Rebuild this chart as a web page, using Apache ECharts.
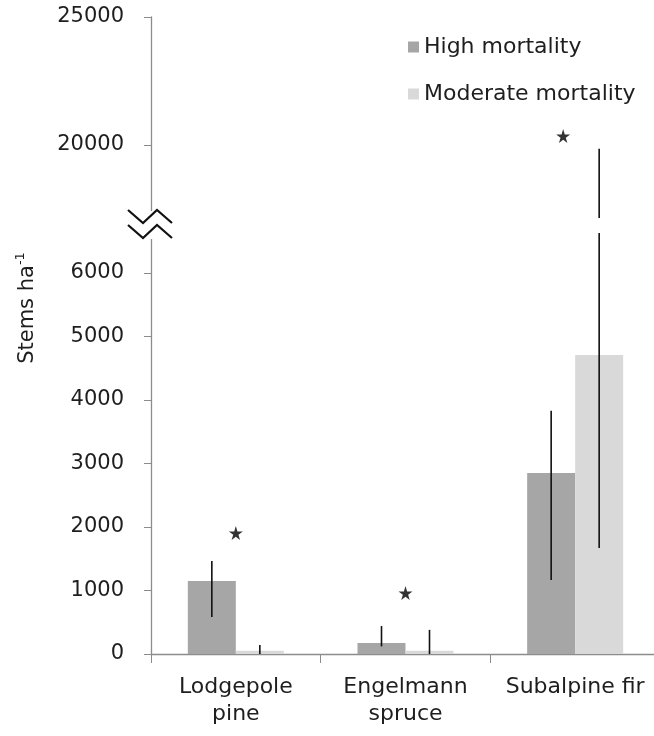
<!DOCTYPE html>
<html>
<head>
<meta charset="utf-8">
<script src="https://cdn.jsdelivr.net/npm/echarts@6/dist/echarts.min.js"></script>
<style>html,body{margin:0;padding:0;background:#fff}#c{width:654px;height:736px}</style>
</head>
<body>
<div id="c"></div>
<script>
var categories = ['Lodgepole\npine', 'Engelmann\nspruce', 'Subalpine fir'];
var seriesNames = ['High mortality', 'Moderate mortality'];
var highMean = [1150, 175, 2850];
var highLow = [583, 120, 1165];
var highUp = [1465, 440, 3830];
var modMean = [50, 50, 4710];
var modLow = [0, 0, 1670];
var modUp = [140, 380, 19850];
var starValues = [1905, 960, 20350];
var lowerTicks = [0, 1000, 2000, 3000, 4000, 5000, 6000];
var upperTicks = [20000, 25000];
var lowerMax = 6630, upperMin = 17150, upperMax = 25000;

var FONT = 'DejaVu Sans';
var TXT = '#1e1e1e';
var AX = '#8c8c8c';
var BAR_W = 48;
var STAR = 'path://M50,0 L61,35 L98,35 L68,57 L79,91 L50,70 L21,91 L32,57 L2,35 L39,35 Z';

function plain(v) { return String(v); }
function errRender(side) {
  return function (params, api) {
    var i = api.value(0);
    var a = api.coord([i, api.value(1)]);
    var b = api.coord([i, api.value(2)]);
    var cs = params.coordSys;
    function cl(y) { return Math.min(Math.max(y, cs.y), cs.y + cs.height); }
    var x = a[0] + side * BAR_W / 2;
    return { type: 'line', shape: { x1: x, y1: cl(a[1]), x2: x, y2: cl(b[1]) },
             style: { stroke: '#111', lineWidth: 1.6 } };
  };
}
function errData(lo, up, idx) {
  return idx.map(function (i) { return [i, lo[i], up[i]]; });
}

var chart = echarts.init(document.getElementById('c'), null, { renderer: 'canvas' });
chart.setOption({
  animation: false,
  textStyle: { fontFamily: FONT, color: TXT },
  grid: [
    { left: 151, width: 509, top: 233, bottom: 82, outerBoundsMode: 'none', containLabel: false },
    { left: 151, width: 509, top: 17, bottom: 518, outerBoundsMode: 'none', containLabel: false }
  ],
  legend: {
    orient: 'vertical', left: 403, top: 30, itemWidth: 11, itemHeight: 11, itemGap: 23,
    icon: 'rect', data: seriesNames,
    textStyle: { fontFamily: FONT, fontSize: 22, color: TXT, lineHeight: 24 }
  },
  xAxis: [
    { type: 'category', gridIndex: 0, data: categories,
      axisLine: { lineStyle: { color: AX, width: 1.3 } },
      axisTick: { show: true, length: 9, lineStyle: { color: AX } },
      axisLabel: { fontFamily: FONT, fontSize: 22, color: TXT, margin: 20, lineHeight: 27, interval: 0 } },
    { type: 'category', gridIndex: 1, data: categories, show: false }
  ],
  yAxis: [
    { type: 'value', gridIndex: 0, min: 0, max: lowerMax,
      splitLine: { show: false },
      axisLine: { show: true, lineStyle: { color: AX, width: 1.3 } },
      axisTick: { show: true, length: 7, customValues: lowerTicks, lineStyle: { color: AX } },
      axisLabel: { customValues: lowerTicks, formatter: plain, fontFamily: FONT, fontSize: 21, color: TXT, margin: 27 } },
    { type: 'value', gridIndex: 1, min: upperMin, max: upperMax,
      splitLine: { show: false },
      axisLine: { show: true, lineStyle: { color: AX, width: 1.3 } },
      axisTick: { show: true, length: 7, customValues: upperTicks, lineStyle: { color: AX } },
      axisLabel: { customValues: upperTicks, formatter: plain, fontFamily: FONT, fontSize: 21, color: TXT, margin: 27 } }
  ],
  series: [
    { name: seriesNames[0], type: 'bar', xAxisIndex: 0, yAxisIndex: 0, data: highMean,
      barWidth: BAR_W, barGap: '0%', itemStyle: { color: '#a6a6a6' } },
    { name: seriesNames[1], type: 'bar', xAxisIndex: 0, yAxisIndex: 0, data: modMean,
      barWidth: BAR_W, barGap: '0%', itemStyle: { color: '#d9d9d9' } },
    { type: 'custom', xAxisIndex: 0, yAxisIndex: 0, z: 5, renderItem: errRender(-1),
      data: errData(highLow, highUp, [0, 1, 2]) },
    { type: 'custom', xAxisIndex: 0, yAxisIndex: 0, z: 5, renderItem: errRender(1),
      data: errData(modLow, modUp, [0, 1, 2]) },
    { type: 'custom', xAxisIndex: 1, yAxisIndex: 1, z: 5, renderItem: errRender(1),
      data: errData(modLow, modUp, [2]) },
    { type: 'scatter', xAxisIndex: 0, yAxisIndex: 0, symbol: STAR, symbolSize: 14,
      itemStyle: { color: '#000' }, data: [[0, starValues[0]], [1, starValues[1]]] },
    { type: 'scatter', xAxisIndex: 1, yAxisIndex: 1, symbol: STAR, symbolSize: 14, symbolOffset: [-12, 0],
      itemStyle: { color: '#000' }, data: [[2, starValues[2]]] }
  ],
  graphic: [
    { type: 'rect', z: 90, shape: { x: 144, y: 211, width: 12, height: 28 }, style: { fill: '#fff' } },
    { type: 'polyline', z: 100, shape: { points: [[128, 210], [143, 223], [157, 210], [172, 223]] },
      style: { stroke: '#111', lineWidth: 2.2, fill: null } },
    { type: 'polyline', z: 100, shape: { points: [[128, 225], [143, 238], [157, 225], [172, 238]] },
      style: { stroke: '#111', lineWidth: 2.2, fill: null } },
    { type: 'text', z: 100, x: 26, y: 308, rotation: Math.PI / 2,
      style: { text: '{a|Stems ha}{s|-1}', align: 'center', verticalAlign: 'middle',
        rich: { a: { fontFamily: FONT, fontSize: 21, fill: TXT, lineHeight: 24, verticalAlign: 'bottom' },
                s: { fontFamily: FONT, fontSize: 13, fill: TXT, lineHeight: 24, verticalAlign: 'top', padding: [0, 0, 10, 0] } } } }
  ]
});
</script>
</body>
</html>
